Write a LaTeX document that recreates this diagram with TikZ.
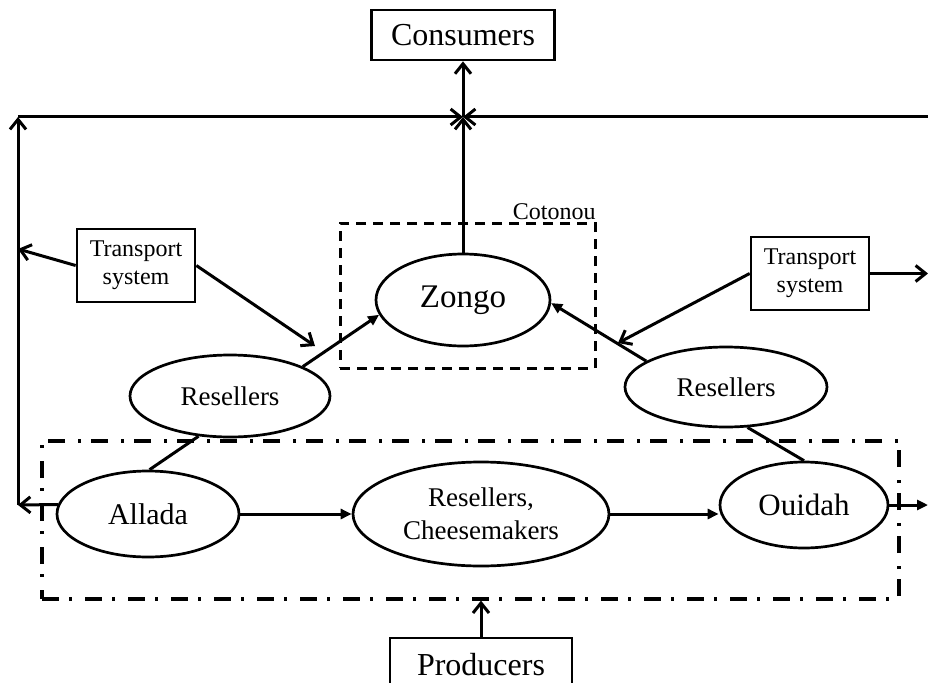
\documentclass[tikz,border=0pt]{standalone}
\usepackage{fontspec}
\setmainfont{Liberation Serif}
\usetikzlibrary{arrows.meta,shapes.geometric}
\begin{document}
\begin{tikzpicture}[x=1pt,y=-1pt,
  line width=3pt,
  ell/.style={draw, ellipse, line width=2.7pt, inner sep=0pt, align=center},
  box/.style={draw, rectangle, line width=2.7pt, inner sep=0pt, align=center},
  ob/.style={-{Straight Barb[length=10pt,width=16pt,line width=3pt]}},
  ft/.style={-{Triangle[length=11pt,width=10pt]}},
  bigtxt/.style={font=\fontsize{32}{34}\selectfont},
  midtxt/.style={font=\fontsize{27}{33}\selectfont},
  smltxt/.style={font=\fontsize{24}{28}\selectfont},
  ]
\useasboundingbox (0,0) rectangle (928,682);

% grouping frames
\node[draw, line width=3pt, dash pattern=on 10pt off 7pt, minimum width=255pt, minimum height=145pt, inner sep=0pt] (cot) at (467.5,295.5) {};
\node[anchor=base east, font=\fontsize{24}{28}\selectfont, inner sep=0pt] (cotlbl) at (597,219) {Cotonou};
\node[draw, line width=3.2pt, dash pattern=on 17pt off 10pt on 3pt off 13pt, minimum width=857pt, minimum height=158pt, inner sep=0pt] (reg) at (470.5,520) {};

% boxes
\node[box, bigtxt, minimum width=183pt, minimum height=50pt] (cons) at (463,35) {Consumers};
\node[box, bigtxt, minimum width=182pt, minimum height=54pt] (prod) at (481,665) {Producers};
\node[box, smltxt, minimum width=118pt, minimum height=73pt] (ltr) at (136,265.5) {Transport\\system};
\node[box, smltxt, minimum width=118pt, minimum height=73pt] (rtr) at (810,273.5) {Transport\\system};

% ellipses
\node[ell, font=\fontsize{33}{36}\selectfont, minimum width=174pt, minimum height=92pt] (zongo) at (463,300) {Zongo};
\node[ell, midtxt, minimum width=200pt, minimum height=82pt] (lres) at (230,396) {Resellers};
\node[ell, midtxt, minimum width=202pt, minimum height=80pt] (rres) at (726,387) {Resellers};
\node[ell, font=\fontsize{30}{33}\selectfont, minimum width=182pt, minimum height=86pt] (allada) at (148,514) {Allada};
\node[ell, midtxt, minimum width=256pt, minimum height=104pt] (rc) at (481,514) {Resellers,\\Cheesemakers};
\node[ell, font=\fontsize{31}{34}\selectfont, minimum width=168pt, minimum height=86pt] (ouidah) at (804,505) {Ouidah};

% free ends
\coordinate (L1) at (18,505);
\coordinate (L2) at (18,117);
\coordinate (J) at (463,117);
\coordinate (R) at (928,117);
\coordinate (lmid) at (18,249);
\coordinate (ltip) at (315,346);
\coordinate (rtip) at (618,343);
\coordinate (rout) at (928,273.5);
\coordinate (oout) at (928,505);

% connectors
\draw[ob] (allada.174) -- (L1);
\draw[ob] (L1) -- (L2);
\draw[ob] (L2) -- (J);
\draw[ob] (R) -- (J);
\draw[ob] (zongo.north) -- (J);
\draw[ob] (J) -- (cons.south);
\draw[ob] (ltr.west) -- (lmid);
\draw[ob] (ltr.east) -- (ltip);
\draw[ob] (rtr.west) -- (rtip);
\draw[ob] (rtr.east) -- (rout);
\draw[ft] (lres.22) -- (zongo.190);
\draw[ft] (rres.162) -- (zongo.-2);
\draw (lres.232) -- (allada.88);
\draw (rres.298) -- (ouidah.north);
\draw[ft] (allada.east) -- (rc.west);
\draw[ft] (rc.east) -- (rc.east -| ouidah.west);
\draw[ft] (ouidah.east) -- (oout);
\draw[ob] (prod.north) -- (prod.north |- reg.south);
\end{tikzpicture}
\end{document}
